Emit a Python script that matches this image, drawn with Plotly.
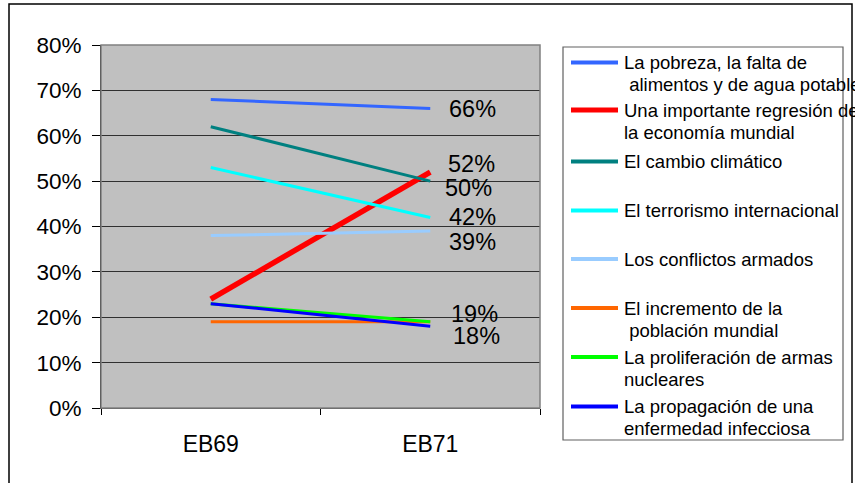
import plotly.graph_objects as go

categories = ["EB69", "EB71"]

series_names = [
    ["La pobreza, la falta de", "\u00a0alimentos y de agua potable"],
    ["Una importante regresión de", "la economía mundial"],
    ["El cambio climático"],
    ["El terrorismo internacional"],
    ["Los conflictos armados"],
    ["El incremento de la", "\u00a0población mundial"],
    ["La proliferación de armas", "nucleares"],
    ["La propagación de una", "enfermedad infecciosa"],
]
pobreza = [68, 66]
regresion = [24, 52]
cambio = [62, 50]
terrorismo = [53, 42]
conflictos = [38, 39]
poblacion = [19, 19]
proliferacion = [23, 19]
propagacion = [23, 18]
series_values = [pobreza, regresion, cambio, terrorismo, conflictos, poblacion, proliferacion, propagacion]
show_label = [True, True, True, True, True, False, True, True]

colors = ["#3366FF", "#FF0000", "#008080", "#00FFFF", "#99CCFF", "#FF6600", "#00FF00", "#0000FF"]
widths = [3, 5.5, 3, 3, 3, 3, 3, 3]
# label offsets in pixels (xshift, yshift)
label_offsets = [(17, 0), (16, 8), (13, -7), (17, 0), (17, -11), (0, 0), (19, 8), (21, -10)]

W, H = 855, 483
L, R, T, B = 101, 540, 45, 408
pw, ph = R - L, B - T


def px(x):
    return (x - L) / pw


def py(y):
    return (B - y) / ph


FONT = "Liberation Sans, Arial, sans-serif"

fig = go.Figure()
for name, vals, c, w in zip(series_names, series_values, colors, widths):
    fig.add_trace(go.Scatter(x=categories, y=vals, mode="lines",
                             line=dict(color=c, width=w), name=" ".join(name),
                             showlegend=False, hoverinfo="skip"))

annotations = []
for vals, show, (xs, ys) in zip(series_values, show_label, label_offsets):
    if show:
        annotations.append(dict(x=categories[1], y=vals[1], xref="x", yref="y",
                                text=f"{vals[1]}%", showarrow=False, xanchor="left",
                                yanchor="middle", xshift=xs, yshift=ys,
                                font=dict(family=FONT, size=23.5, color="black")))

shapes = []
# outer chart border
shapes.append(dict(type="rect", xref="paper", yref="paper", x0=px(9), x1=px(852),
                   y0=py(495), y1=py(4), line=dict(color="black", width=1.5)))
# plot area border
shapes.append(dict(type="rect", xref="paper", yref="paper", x0=0, x1=1, y0=0, y1=1,
                   line=dict(color="#808080", width=1.5), layer="above"))
# legend box
shapes.append(dict(type="rect", xref="paper", yref="paper", x0=px(563), x1=px(843),
                   y0=py(440), y1=py(47), line=dict(color="#606060", width=1.2)))

legend_y = [62.5, 110, 161.5, 210.5, 259, 308, 357, 406.5]
line_gap = 22
for name, c, w, y in zip(series_names, colors, widths, legend_y):
    shapes.append(dict(type="line", xref="paper", yref="paper", x0=px(571), x1=px(618),
                       y0=py(y), y1=py(y), line=dict(color=c, width=4 if w < 5 else 5)))
    for i, line in enumerate(name):
        annotations.append(dict(x=px(622), y=py(y + i * line_gap), xref="paper", yref="paper",
                                text=line, showarrow=False, xanchor="left", yanchor="middle",
                                font=dict(family=FONT, size=18.5, color="black")))

fig.update_layout(
    width=W, height=H,
    margin=dict(l=L, r=W - R, t=T, b=H - B, pad=0),
    paper_bgcolor="white", plot_bgcolor="#C0C0C0",
    showlegend=False,
    xaxis=dict(type="category", range=[-0.5, 1.5], showgrid=False, zeroline=False,
               showline=True, linecolor="#404040", linewidth=1,
               ticks="outside", tickson="boundaries", ticklen=6, tickcolor="black",
               ticklabelstandoff=15,
               tickfont=dict(family=FONT, size=23, color="black")),
    yaxis=dict(range=[0, 80], tickvals=[0, 10, 20, 30, 40, 50, 60, 70, 80],
               ticktext=["0%", "10%", "20%", "30%", "40%", "50%", "60%", "70%", "80%"],
               showgrid=True, gridcolor="#303030", gridwidth=1, zeroline=False,
               showline=True, linecolor="black", linewidth=1,
               ticks="outside", ticklen=8, tickcolor="black", ticklabelstandoff=6,
               tickfont=dict(family=FONT, size=22.5, color="black")),
    annotations=annotations,
    shapes=shapes,
)

fig.write_html("out.html", config={"displayModeBar": False, "staticPlot": True},
               post_script="document.body.style.margin='0';document.body.style.overflow='hidden';")
